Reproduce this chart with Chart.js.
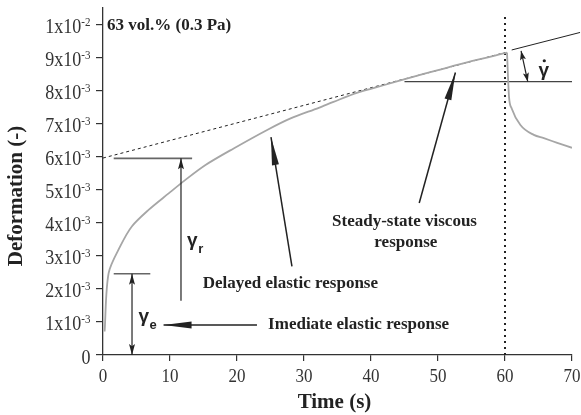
<!DOCTYPE html>
<html>
<head>
<meta charset="utf-8">
<script src="https://cdn.jsdelivr.net/npm/chart.js@4/dist/chart.umd.min.js"></script>
<style>
  html, body { margin: 0; padding: 0; background: #fff; }
  #chart { display: block; }
</style>
</head>
<body>
<canvas id="chart" width="581" height="415"></canvas>
<script>
// Creep curve: time (s) vs deformation (-)
const creepT = [0.24, 0.84, 2.6, 4.3, 6.8, 9.8, 12.3, 15.3, 19.5, 24.5, 28, 32.2, 34.4, 38, 42, 46, 50, 55, 60.3];
const creepY = [0.71e-3, 2.48e-3, 3.30e-3, 3.89e-3, 4.39e-3, 4.89e-3, 5.30e-3, 5.75e-3, 6.25e-3, 6.81e-3, 7.16e-3, 7.48e-3, 7.66e-3, 7.94e-3, 8.17e-3, 8.40e-3, 8.62e-3, 8.89e-3, 9.15e-3];
// Recovery after the stress is removed at 60 s
const recoveryT = [60.3, 60.6, 61.0, 62.3, 64.3, 65.8, 67.8, 70];
const recoveryY = [9.15e-3, 7.81e-3, 7.46e-3, 6.96e-3, 6.66e-3, 6.56e-3, 6.42e-3, 6.27e-3];

// Steady-state slope line (dashed up to 60 s, solid after)
const fitDashedT = [0, 60];
const fitDashedY = [5.96e-3, 9.15e-3];
const fitSolidT = [61, 71.2];
const fitSolidY = [9.23e-3, 9.76e-3];

// Axis ticks
const xTicks = [0, 10, 20, 30, 40, 50, 60, 70];
const xTickLabels = ['0', '10', '20', '30', '40', '50', '60', '70'];
const yTicks = [0, 1e-3, 2e-3, 3e-3, 4e-3, 5e-3, 6e-3, 7e-3, 8e-3, 9e-3, 1e-2];
const yTickBase = ['0', '1x10', '2x10', '3x10', '4x10', '5x10', '6x10', '7x10', '8x10', '9x10', '1x10'];
const yTickExp = ['', '-3', '-3', '-3', '-3', '-3', '-3', '-3', '-3', '-3', '-2'];

const SERIF = "'Liberation Serif', 'DejaVu Serif', serif";
const SANS = "'Liberation Sans', Arial, sans-serif";
const INK = '#222';
const CURVE = '#a6a6a6';

const pts = (xs, ys) => xs.map((x, i) => ({ x, y: ys[i] }));

// Reference guide lines for the annotations (in data units)
const guides = {
  gammaDotBase: [[45, 8.27e-3], [70.2, 8.27e-3]],
  gammaETop: [[1.6, 2.46e-3], [7.06, 2.46e-3]],
  gammaRTop: [[1.6, 5.95e-3], [13.3, 5.95e-3]],
  stopLine: [[60, 0], [60, 10.3e-3]]
};
const guidePts = g => g.map(p => ({ x: p[0], y: p[1] }));

const lineDs = (data, extra) => Object.assign({
  data, borderColor: INK, borderWidth: 1, pointRadius: 0, fill: false, tension: 0
}, extra);

// Arrow helpers
function drawShaft(ctx, a, b, w) {
  ctx.beginPath();
  ctx.moveTo(a.x, a.y);
  ctx.lineTo(b.x, b.y);
  ctx.lineWidth = w;
  ctx.stroke();
}

function drawHead(ctx, tail, tip, len, half) {
  const dx = tip.x - tail.x, dy = tip.y - tail.y;
  const d = Math.hypot(dx, dy);
  const ux = dx / d, uy = dy / d;
  const bx = tip.x - ux * len, by = tip.y - uy * len;
  ctx.beginPath();
  ctx.moveTo(tip.x, tip.y);
  ctx.lineTo(bx - uy * half, by + ux * half);
  ctx.lineTo(tip.x - ux * len * 0.8, tip.y - uy * len * 0.8);
  ctx.lineTo(bx + uy * half, by - ux * half);
  ctx.closePath();
  ctx.fill();
}

// text squeezed taller, like the narrow serif in the figure
function tallText(ctx, text, x, y, sy) {
  ctx.save();
  ctx.translate(x, y);
  ctx.scale(1, sy);
  ctx.fillText(text, 0, 0);
  ctx.restore();
}

const annotate = {
  id: 'annotate',
  afterDatasetsDraw(chart) {
    const { ctx, scales: { x, y } } = chart;
    const P = (t, v) => ({ x: x.getPixelForValue(t), y: y.getPixelForValue(v) });
    ctx.save();
    ctx.strokeStyle = INK;
    ctx.fillStyle = INK;

    // big arrows: tail -> tip
    const big = [
      [P(28.2, 2.68e-3), P(25.07, 6.59e-3)],
      [P(47.2, 4.6e-3), P(52.6, 8.55e-3)],
      [P(22.98, 0.906e-3), P(9.04, 0.906e-3)]
    ];
    big.forEach(([a, b]) => {
      drawShaft(ctx, a, b, 1.5);
      const dx = b.x - a.x, dy = b.y - a.y, d = Math.hypot(dx, dy);
      ctx.beginPath();
      ctx.moveTo(b.x, b.y);
      ctx.lineTo(b.x - dx / d * 28 - dy / d * 3.5, b.y - dy / d * 28 + dx / d * 3.5);
      ctx.lineTo(b.x - dx / d * 28 + dy / d * 3.5, b.y - dy / d * 28 - dx / d * 3.5);
      ctx.closePath();
      ctx.fill();
    });

    // gamma_e (double), gamma_r (single), gamma-dot (double)
    const ge0 = P(4.33, 2.46e-3), ge1 = P(4.33, 0);
    drawShaft(ctx, ge0, ge1, 1.2);
    drawHead(ctx, ge1, ge0, 11, 3);
    drawHead(ctx, ge0, ge1, 11, 3);

    const gr0 = P(11.64, 1.64e-3), gr1 = P(11.64, 5.95e-3);
    drawShaft(ctx, gr0, gr1, 1.2);
    drawHead(ctx, gr0, gr1, 11, 3);

    const gd0 = P(62.4, 9.2e-3), gd1 = P(63.4, 8.27e-3);
    drawShaft(ctx, gd0, gd1, 1.2);
    drawHead(ctx, gd1, gd0, 9, 3);
    drawHead(ctx, gd0, gd1, 9, 3);

    // text labels
    ctx.textBaseline = 'middle';
    ctx.font = 'bold 17px ' + SERIF;
    ctx.textAlign = 'left';
    let p = P(0.6, 10e-3);
    ctx.fillText('63 vol.% (0.3 Pa)', p.x, p.y + 1);
    ctx.textAlign = 'center';
    p = P(45, 4.05e-3);
    ctx.fillText('Steady-state viscous', p.x, p.y);
    p = P(45.2, 3.4e-3);
    ctx.fillText('response', p.x, p.y);
    p = P(27.96, 2.16e-3);
    ctx.fillText('Delayed elastic response', p.x, p.y);
    p = P(38.15, 0.93e-3);
    ctx.fillText('Imediate elastic response', p.x, p.y);

    // greek symbols
    ctx.textAlign = 'left';
    ctx.textBaseline = 'alphabetic';
    const greek = (t, v, sub) => {
      const q = P(t, v);
      ctx.font = 'bold 19px ' + SANS;
      ctx.fillText('\u03b3', q.x, q.y);
      const w = ctx.measureText('\u03b3').width;
      if (sub) {
        ctx.font = 'bold 13px ' + SANS;
        ctx.fillText(sub, q.x + w + 0.5, q.y + 7);
      }
      return { q, w };
    };
    greek(5.3, 1.0e-3, 'e');
    greek(12.55, 3.3e-3, 'r');
    const gd = greek(65.0, 8.45e-3, '');
    ctx.beginPath();
    ctx.arc(gd.q.x + gd.w / 2 + 0.5, gd.q.y - 15, 1.6, 0, Math.PI * 2);
    ctx.fill();
    ctx.restore();
  },
  afterDraw(chart) {
    const { ctx, scales: { x, y } } = chart;
    ctx.save();
    ctx.fillStyle = '#333';
    ctx.textBaseline = 'alphabetic';

    // x tick labels
    ctx.textAlign = 'center';
    ctx.font = '17px ' + SERIF;
    xTicks.forEach((v, i) => {
      tallText(ctx, xTickLabels[i], x.getPixelForValue(v), y.bottom + 26.5, 1.17);
    });

    // y tick labels with superscript exponents
    ctx.textAlign = 'left';
    yTicks.forEach((v, i) => {
      const py = y.getPixelForValue(v);
      ctx.font = '11px ' + SERIF;
      const w2 = ctx.measureText(yTickExp[i]).width;
      ctx.font = '18px ' + SERIF;
      const w1 = ctx.measureText(yTickBase[i]).width;
      const right = 90.5;
      tallText(ctx, yTickBase[i], right - w2 - w1, py + 8.5, 1.15);
      if (yTickExp[i]) {
        ctx.font = '11px ' + SERIF;
        tallText(ctx, yTickExp[i], right - w2, py + 1.5, 1.15);
      }
    });

    // axis titles
    ctx.fillStyle = INK;
    ctx.font = 'bold 21px ' + SERIF;
    ctx.textAlign = 'center';
    ctx.textBaseline = 'middle';
    ctx.fillText('Time (s)', (x.left + x.right) / 2 - 3, 403);
    ctx.translate(17, 196);
    ctx.rotate(-Math.PI / 2);
    ctx.fillText('Deformation (-)', 0, 0);
    ctx.restore();
  }
};

new Chart(document.getElementById('chart'), {
  type: 'line',
  data: {
    datasets: [
      lineDs(pts(creepT, creepY), { borderColor: CURVE, borderWidth: 1.8, tension: 0.3 }),
      lineDs(pts(recoveryT, recoveryY), { borderColor: CURVE, borderWidth: 1.8, cubicInterpolationMode: 'monotone' }),
      lineDs(pts(fitDashedT, fitDashedY), { borderDash: [3, 3] }),
      lineDs(pts(fitSolidT, fitSolidY), { clip: false }),
      lineDs(guidePts(guides.gammaDotBase), { borderColor: '#444', borderWidth: 1.2 }),
      lineDs(guidePts(guides.gammaETop), { borderColor: '#666', borderWidth: 1.6 }),
      lineDs(guidePts(guides.gammaRTop), { borderColor: '#666', borderWidth: 1.6 }),
      lineDs(guidePts(guides.stopLine), { borderDash: [2, 4], borderWidth: 2 })
    ]
  },
  options: {
    responsive: false,
    animation: false,
    devicePixelRatio: 1,
    layout: { padding: { top: 8, right: 9, left: 0, bottom: 0 } },
    plugins: { legend: { display: false }, tooltip: { enabled: false } },
    scales: {
      x: {
        type: 'linear',
        min: 0,
        max: 70,
        afterBuildTicks: s => { s.ticks = xTicks.map(value => ({ value })); },
        afterFit: s => { s.height = 60; },
        ticks: { display: false },
        grid: { drawOnChartArea: false, drawTicks: true, tickLength: 6, color: '#333', lineWidth: 1.2 },
        border: { color: '#333', width: 1.3 }
      },
      y: {
        type: 'linear',
        min: 0,
        max: 0.0105,
        afterBuildTicks: s => { s.ticks = yTicks.map(value => ({ value })); },
        afterFit: s => { s.width = 103; },
        ticks: { display: false },
        grid: { drawOnChartArea: false, drawTicks: true, tickLength: 7, color: '#333', lineWidth: 1.2 },
        border: { color: '#333', width: 1.3 }
      }
    }
  },
  plugins: [annotate]
});
</script>
</body>
</html>
